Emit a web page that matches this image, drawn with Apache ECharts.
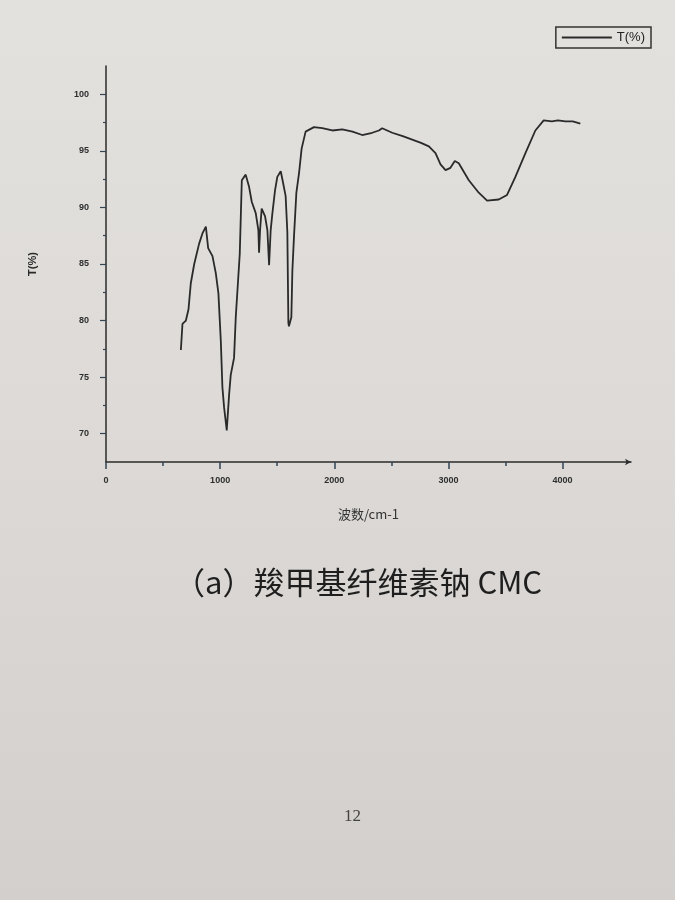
<!DOCTYPE html>
<html>
<head>
<meta charset="utf-8">
<title>CMC IR</title>
<script src="https://cdn.jsdelivr.net/npm/echarts@6/dist/echarts.min.js"></script>
<style>
  html, body {
    margin: 0;
    padding: 0;
  }
  body {
    width: 675px;
    height: 900px;
    background: linear-gradient(180deg, #e3e1de 0%, #dddad7 45%, #d2cfcc 100%);
  }
  #chart {
    width: 675px;
    height: 900px;
  }
</style>
</head>
<body>
<div id="chart"></div>
<script>
// wavenumber (cm-1) and transmittance T(%)
const waveNumbers = [
  656, 670, 700, 723, 743, 773, 816, 845, 875, 895, 933, 962, 985, 1006, 1020, 1035, 1058,
  1079, 1093, 1122, 1137, 1152, 1172, 1190, 1224, 1254, 1277, 1312, 1335, 1341, 1350, 1364,
  1376, 1394, 1414, 1429, 1443, 1458, 1481, 1501, 1531, 1551, 1574, 1589, 1598, 1603, 1624,
  1633, 1647, 1668, 1691, 1714, 1749, 1822, 1895, 1983, 2070, 2160, 2245, 2332, 2391, 2420,
  2508, 2600, 2683, 2760, 2829, 2887, 2931, 2975, 3018, 3056, 3091, 3179, 3266, 3339, 3441,
  3514, 3587, 3675, 3762, 3835, 3907, 3960, 4024, 4090, 4156
]
const transmittance = [
  77.4, 79.7, 80.0, 81.0, 83.3, 85.0, 86.8, 87.7, 88.3, 86.4, 85.7, 84.2, 82.4, 78.2, 74.1, 72.3, 70.3,
  73.5, 75.2, 76.7, 80.3, 82.7, 85.9, 92.4, 92.9, 91.8, 90.5, 89.5, 88.0, 86.0, 88.0, 89.9,
  90.0, 89.2, 88.0, 84.9, 88.0, 89.5, 91.5, 92.7, 93.2, 92.2, 91.0, 87.8, 79.8, 79.5, 80.3,
  84.4, 87.4, 91.3, 93.0, 95.2, 96.7, 97.1, 97.0, 96.8, 96.9, 96.7, 96.4, 96.6, 96.8, 97.0,
  96.6, 96.3, 96.0, 95.7, 95.4, 94.8, 93.8, 93.3, 93.5, 94.1, 93.9, 92.4, 91.3, 90.6, 90.7,
  91.1, 92.7, 94.8, 96.8, 97.7, 97.6, 97.7, 97.6, 97.6, 97.4
]
const yTicks = [70, 75, 80, 85, 90, 95, 100]
const yMinorTicks = [72.5, 77.5, 82.5, 87.5, 92.5, 97.5]
const xTicks = [0, 1000, 2000, 3000, 4000]
const xMinorTicks = [500, 1500, 2500, 3500]

const seriesName = 'T(%)'
const captionText = '（a）羧甲基纤维素钠 CMC'
const pageNumber = '12'

const chartInstance = echarts.init(document.getElementById('chart'))

const lineData = waveNumbers.map((w, i) => [w, transmittance[i]])

const axisColor = '#2b2b2b'
const labelFont = {
  color: '#2e2e2e',
  fontSize: 9,
  fontWeight: 'bold',
  fontFamily: 'Liberation Sans'
}

const option = {
  backgroundColor: 'transparent',
  animation: false,
  grid: {
    left: 106,
    right: 44,
    top: 66,
    bottom: 438,
    containLabel: false
  },
  legend: {
    right: 24,
    top: 27,
    data: [seriesName],
    itemWidth: 50,
    itemHeight: 2,
    itemGap: 6,
    borderColor: '#333',
    borderWidth: 1.5,
    padding: [4, 6, 4, 6],
    icon: 'rect',
    textStyle: {
      color: '#222',
      fontSize: 13,
      fontFamily: 'Liberation Sans'
    }
  },
  xAxis: [
    {
      type: 'value',
      min: 0,
      max: 4600,
      name: '波数/cm-1',
      nameLocation: 'middle',
      nameGap: 46,
      nameTextStyle: {
        color: '#333',
        fontSize: 13,
        fontFamily: 'Noto Sans CJK SC'
      },
      axisLine: {
        show: true,
        lineStyle: { color: axisColor, width: 1.5 },
        symbol: ['none', 'arrow'],
        symbolSize: [5, 6]
      },
      axisTick: {
        show: true,
        length: 7,
        inside: false,
        customValues: xTicks,
        lineStyle: { color: '#345', width: 1.5 }
      },
      axisLabel: {
        ...labelFont,
        margin: 14,
        customValues: xTicks,
        formatter: v => String(v)
      },
      splitLine: { show: false }
    },
    {
      type: 'value',
      min: 0,
      max: 4600,
      position: 'bottom',
      axisLine: { show: false },
      axisTick: {
        show: true,
        length: 4,
        customValues: xMinorTicks,
        lineStyle: { color: '#345', width: 1.5 }
      },
      axisLabel: { show: false },
      splitLine: { show: false }
    }
  ],
  yAxis: [
    {
      type: 'value',
      min: 67.5,
      max: 102.5,
      name: 'T(%)',
      nameLocation: 'middle',
      nameGap: 68,
      nameRotate: 90,
      nameTextStyle: {
        color: '#2a2a2a',
        fontSize: 11,
        fontWeight: 'bold',
        fontFamily: 'Liberation Sans'
      },
      axisLine: {
        show: true,
        lineStyle: { color: axisColor, width: 1.5 }
      },
      axisTick: {
        show: true,
        length: 6,
        customValues: yTicks,
        lineStyle: { color: '#345', width: 1.2 }
      },
      axisLabel: {
        ...labelFont,
        margin: 17,
        customValues: yTicks,
        formatter: v => String(v)
      },
      splitLine: { show: false }
    },
    {
      type: 'value',
      min: 67.5,
      max: 102.5,
      position: 'left',
      axisLine: { show: false },
      axisTick: {
        show: true,
        length: 3,
        customValues: yMinorTicks,
        lineStyle: { color: '#345', width: 1.2 }
      },
      axisLabel: { show: false },
      splitLine: { show: false }
    }
  ],
  graphic: [
    {
      type: 'text',
      left: 174,
      top: 567,
      style: {
        text: captionText,
        fill: '#1e1e1e',
        font: '400 31px "Noto Sans CJK SC"'
      }
    },
    {
      type: 'text',
      left: 344,
      top: 808,
      style: {
        text: pageNumber,
        fill: '#444',
        font: '17px "Liberation Serif"'
      }
    }
  ],
  series: [
    {
      name: seriesName,
      type: 'line',
      data: lineData,
      showSymbol: false,
      smooth: false,
      lineStyle: { color: '#2a2a2a', width: 1.8 },
      itemStyle: { color: '#2a2a2a' }
    }
  ]
}

chartInstance.setOption(option)
</script>
</body>
</html>
